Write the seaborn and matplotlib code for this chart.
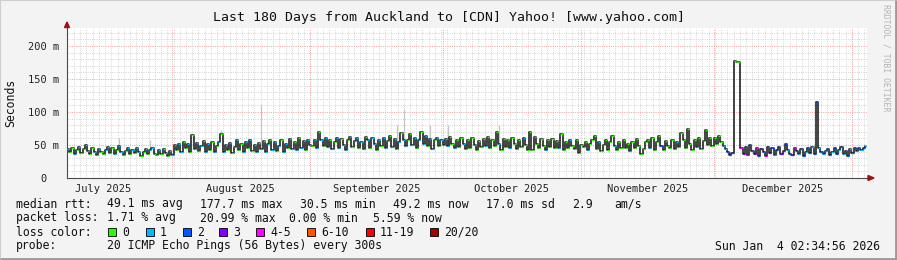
import numpy as np
import pandas as pd
import matplotlib
matplotlib.use("Agg")
import matplotlib.pyplot as plt
import seaborn as sns
from matplotlib.patches import Rectangle, Polygon

# ---------------- data ----------------
# median rtt (ms), one sample every 12 h over the last 180 days
median_ms = [
    # July
    44, 39, 45, 37, 42, 47, 38, 44, 50, 41, 36, 46, 40, 35, 44, 39, 36, 43, 47, 38,
    45, 37, 42, 48, 40, 35, 41, 46, 36, 43, 38, 46, 40, 34, 39, 44, 36, 42, 45, 37,
    35, 42, 37, 44, 38, 34, 41, 35,
    # August
    50, 42, 52, 40, 55, 45, 51, 39, 65, 44, 53, 41, 49, 56, 40, 51, 43, 54, 39, 48,
    55, 66, 40, 50, 42, 53, 38, 47, 57, 43, 51, 40, 54, 45, 58, 41, 50, 39, 53, 44,
    56, 40, 51, 58, 42, 54, 41, 49, 57, 40, 52, 45, 59, 44, 55, 42, 60, 46, 56, 43, 58, 50,
    # September
    48, 57, 45, 70, 58, 49, 60, 47, 57, 44, 55, 61, 46, 59, 50, 43, 57, 62, 47, 56,
    60, 45, 55, 44, 62, 57, 46, 61, 52, 43, 58, 49, 60, 45, 56, 63, 47, 59, 44, 55,
    68, 58, 48, 57, 67, 50, 61, 46, 58, 70, 52, 63, 48, 59, 44, 57, 61, 49, 58, 50,
    # October
    59, 49, 62, 52, 45, 58, 47, 61, 51, 44, 57, 46, 60, 50, 42, 56, 47, 59, 49, 62,
    45, 57, 48, 69, 52, 43, 59, 47, 57, 45, 60, 51, 44, 57, 47, 61, 50, 42, 70, 43,
    62, 52, 46, 59, 49, 43, 57, 47, 59, 45, 56, 46, 66, 43, 55, 45, 58, 49, 44, 57, 38, 50,
    # November
    47, 55, 42, 52, 57, 63, 44, 54, 41, 50, 58, 43, 55, 64, 48, 42, 54, 45, 57, 46,
    52, 41, 55, 45, 59, 48, 37, 44, 54, 57, 46, 60, 42, 55, 64, 48, 43, 56, 49, 45,
    58, 44, 55, 47, 68, 57, 45, 74, 52, 43, 58, 47, 60, 44, 56, 72, 50, 61, 48,
    # end of November
    60, 52, 63, 55, 48, 44, 40, 35, 38,
    # spike
    177, 176, 175,
    # December
    45, 37, 47, 35, 50, 41, 36, 46, 34, 44, 39, 33, 47, 38, 45, 35, 42, 47, 37, 41,
    52, 43, 37, 35, 46, 41, 36, 44, 34, 40, 45, 38, 47, 36, 115, 45, 40, 36, 41, 44,
    35, 39, 45, 37, 42, 47, 36, 41, 33, 44, 38, 46, 41, 45, 43, 46, 48,
]
# loss colour index per sample (0 = 0 lost, 1 = 1, 2 = 2, 3 = 3, 4 = 4-5 ...)
loss_idx = [
    # July
    1, 0, 0, 1, 0, 1, 0, 0, 1, 1, 0, 0, 1, 0, 1, 0, 0, 1, 1, 0,
    0, 1, 0, 1, 1, 0, 0, 1, 0, 1, 0, 1, 1, 0, 0, 1, 0, 1, 1, 0,
    0, 1, 0, 0, 1, 0, 1, 1,
    # August
    1, 0, 1, 1, 0, 0, 1, 0, 0, 1, 1, 0, 1, 0, 1, 1, 0, 0, 1, 0,
    1, 0, 1, 1, 0, 1, 0, 1, 1, 0, 0, 1, 1, 0, 1, 0, 1, 1, 0, 1,
    0, 1, 1, 0, 1, 1, 0, 1, 0, 1, 1, 0, 1, 1, 0, 1, 0, 1, 1, 0, 1, 1,
    # September
    0, 1, 1, 0, 1, 0, 1, 1, 0, 1, 0, 1, 1, 0, 1, 1, 0, 1, 0, 1,
    1, 0, 1, 1, 0, 1, 0, 1, 1, 0, 1, 0, 1, 1, 0, 0, 1, 1, 0, 1,
    0, 1, 1, 0, 0, 1, 1, 0, 1, 0, 1, 1, 0, 1, 1, 0, 1, 0, 1, 1,
    # October
    1, 1, 0, 0, 1, 0, 0, 0, 1, 0, 0, 0, 0, 1, 0, 0, 0, 0, 1, 0,
    0, 0, 0, 0, 1, 0, 0, 0, 0, 1, 0, 0, 0, 0, 0, 1, 0, 0, 0, 0,
    1, 0, 0, 0, 0, 1, 0, 0, 0, 0, 0, 1, 0, 0, 0, 0, 1, 0, 0, 0, 0, 0,
    # November
    0, 0, 1, 0, 0, 0, 0, 1, 0, 0, 0, 0, 0, 0, 1, 0, 0, 0, 0, 0,
    0, 1, 0, 0, 0, 0, 0, 0, 0, 0, 1, 0, 0, 0, 0, 2, 0, 0, 0, 0,
    0, 0, 1, 0, 0, 0, 0, 0, 0, 0, 0, 1, 0, 0, 0, 0, 0, 0, 0,
    # end of November
    0, 0, 0, 0, 1, 1, 2, 2, 2,
    # spike
    0, 0, 0,
    # December
    4, 3, 2, 4, 2, 2, 3, 4, 2, 3, 2, 4, 2, 3, 2, 1, 2, 2, 3, 2,
    2, 1, 2, 3, 4, 2, 1, 2, 2, 1, 2, 2, 1, 2, 2, 1, 2, 1, 1, 2,
    2, 1, 2, 2, 1, 2, 1, 2, 2, 1, 2, 2, 1, 2, 1, 2, 1,
]
# faint "smoke" spikes (sample index, top of smoke in ms)
smoke_idx = [23, 37, 69, 87, 148, 151, 163, 171, 194]
smoke_top_ms = [60, 57, 72, 110, 80, 105, 80, 80, 80]

loss_labels = ["0", "1", "2", "3", "4-5", "6-10", "11-19", "20/20"]
loss_colors = ["#26ff00", "#00b8ff", "#0059ff", "#7e00ff", "#ff00ff",
               "#ff5500", "#ff0000", "#a00000"]
month_starts = ["2025-07-01", "2025-08-01", "2025-09-01", "2025-10-01",
                "2025-11-01", "2025-12-01", "2026-01-01", "2026-02-01"]
month_labels = ["July 2025", "August 2025", "September 2025", "October 2025",
                "November 2025", "December 2025"]
y_ticks = [0, 50, 100, 150, 200]
y_tick_labels = ["0  ", "50 m", "100 m", "150 m", "200 m"]

title = "Last 180 Days from Auckland to [CDN] Yahoo! [www.yahoo.com]"
rtt_row = [("median rtt:", 16), ("49.1 ms avg", 107), ("177.7 ms max", 200),
           ("30.5 ms min", 300), ("49.2 ms now", 393), ("17.0 ms sd", 486),
           ("2.9", 572), ("am/s", 614)]
loss_row = [("packet loss:", 16), ("1.71 % avg", 107), ("20.99 % max", 200),
            ("0.00 % min", 289), ("5.59 % now", 373)]
probe_text = "20 ICMP Echo Pings (56 Bytes) every 300s"
date_text = "Sun Jan  4 02:34:56 2026"

assert len(median_ms) == len(loss_idx)

# ---------------- setup ----------------
sns.set_style("white")
plt.rcParams["font.family"] = ["DejaVu Sans Mono"]

W, H = 897, 260
fig = plt.figure(figsize=(W / 100, H / 100), dpi=100)
fig.patch.set_facecolor("#f3f3f3")

def fx(x):
    return x / W

def fy(y):
    return 1 - y / H

L, R, T, B = 67, 867, 27.5, 178
ax = fig.add_axes([fx(L), fy(B), (R - L) / W, (B - T) / H])
ax.set_facecolor("white")

start = pd.Timestamp("2025-07-08 09:35")
end = start + pd.Timedelta(days=180)
step = pd.Timedelta(hours=12)
times = pd.date_range(start, periods=len(median_ms), freq="12h")
df = pd.DataFrame({"time": times, "rtt": median_ms, "loss": loss_idx})

ax.set_xlim(start, end)
ax.set_ylim(0, 228)

# ---------------- grid ----------------
grid_gray = "#d4d4d4"
grid_red = "#f4a0a0"
dot = (0, (1, 1.3))
for v in range(10, 228, 10):
    if v % 50:
        ax.axhline(v, color=grid_gray, lw=0.7, ls=dot, zorder=0)
minor_days = np.arange(1.58, 180, 1.4)
for d in minor_days:
    ax.axvline(start + pd.Timedelta(days=float(d)), color=grid_gray, lw=0.7, ls=dot, zorder=0)
for v in y_ticks[1:]:
    ax.axhline(v, color=grid_red, lw=0.7, ls=dot, zorder=0.5)
ms = pd.to_datetime(month_starts)
for m in ms:
    if start < m < end:
        ax.axvline(m, color=grid_red, lw=0.7, ls=dot, zorder=0.5)

# ---------------- smoke ----------------
for i, top in zip(smoke_idx, smoke_top_ms):
    t = times[i] + step / 2
    ax.vlines(t, median_ms[i], top, color="#c4c4c4", lw=0.9, zorder=1)

# ---------------- median line ----------------
sns.lineplot(data=df, x="time", y="rtt", ax=ax, color="#111111", lw=1.1,
             drawstyle="steps-post", zorder=2, legend=False)
seg_colors = [loss_colors[k] for k in loss_idx]
ax.hlines(df["rtt"], df["time"], df["time"] + step, colors=seg_colors, lw=1.0, zorder=3)

# ---------------- axes ----------------
for s in ["top", "right"]:
    ax.spines[s].set_visible(False)
for s in ["left", "bottom"]:
    ax.spines[s].set_color("#4a4a4a")
    ax.spines[s].set_linewidth(0.8)
ax.set_xlabel("")
ax.set_ylabel("")

ax.set_yticks(y_ticks)
ax.set_yticklabels(y_tick_labels)
ax.tick_params(axis="y", direction="out", length=2.5, width=0.7, color="#4a4a4a",
               pad=3, labelsize=7.5, labelcolor="#222222")
mids = [ms[k] + (ms[k + 1] - ms[k]) / 2 for k in range(len(month_labels))]
ax.set_xticks(mids)
ax.set_xticklabels(month_labels)
ax.tick_params(axis="x", length=0, pad=4, labelsize=7.5, labelcolor="#222222")

# arrows
arrow_c = "#a01010"
fig.patches.append(Polygon([(fx(64.5), fy(27.5)), (fx(69.5), fy(27.5)), (fx(67), fy(22))],
                           closed=True, transform=fig.transFigure, color=arrow_c))
fig.patches.append(Polygon([(fx(868), fy(175.5)), (fx(868), fy(180.5)), (fx(874), fy(178))],
                           closed=True, transform=fig.transFigure, color=arrow_c))

# ---------------- texts ----------------
fs = 8.3
fig.text(0.5, fy(18), title, ha="center", va="center", fontsize=9.5, color="#111111")
fig.text(fx(11), fy(103), "Seconds", rotation=90, ha="center", va="center",
         fontsize=fs, color="#111111")
fig.text(fx(886), fy(58), "RRDTOOL / TOBI OETIKER", rotation=270, ha="center",
         va="center", fontsize=5.9, color="#b4b4b4")

for s, x in rtt_row:
    fig.text(fx(x), fy(204), s, ha="left", va="center", fontsize=fs, color="#111111")
for s, x in loss_row:
    fig.text(fx(x), fy(218), s, ha="left", va="center", fontsize=fs, color="#111111")

fig.text(fx(16), fy(232), "loss color:", ha="left", va="center", fontsize=fs, color="#111111")
sq_x = [108, 146, 183, 219, 256, 307, 366, 430]
for lab, col, x in zip(loss_labels, loss_colors, sq_x):
    fig.patches.append(Rectangle((fx(x), fy(236)), 8 / W, 8 / H, transform=fig.transFigure,
                                 facecolor=col, edgecolor="#000000", lw=0.6))
    fig.text(fx(x + 14), fy(232), lab, ha="left", va="center", fontsize=fs, color="#111111")

fig.text(fx(16), fy(246), "probe:", ha="left", va="center", fontsize=fs, color="#111111")
fig.text(fx(107), fy(246), probe_text, ha="left", va="center", fontsize=fs, color="#111111")
fig.text(fx(880), fy(246), date_text, ha="right", va="center", fontsize=fs, color="#111111")

# outer frame
fig.patches.append(Rectangle((0, 0), 1, 1, transform=fig.transFigure, fill=False,
                             edgecolor="#cfcfcf", lw=1.5))
fig.patches.append(Polygon([(fx(0), fy(259)), (fx(896), fy(259)), (fx(896), fy(0))],
                           closed=False, fill=False, transform=fig.transFigure,
                           edgecolor="#9a9a9a", lw=2))

fig.savefig("out.png", dpi=100, facecolor=fig.get_facecolor())
